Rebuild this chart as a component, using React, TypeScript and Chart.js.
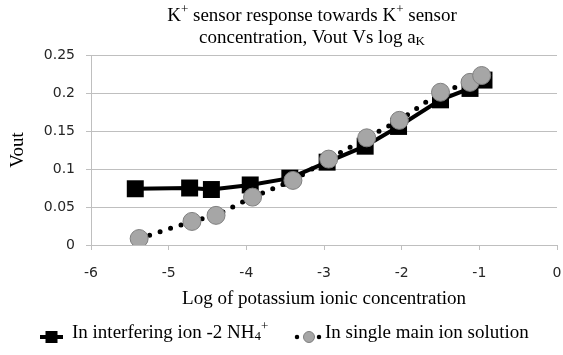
import React, { useEffect, useRef } from "react";
import { Chart, registerables } from "chart.js";

Chart.register(...registerables);

// ---- Data ----
const interferingX = [-5.43, -4.73, -4.45, -3.95, -3.44, -2.96, -2.47, -2.04, -1.5, -1.12, -0.94];
const interferingY = [0.074, 0.075, 0.073, 0.079, 0.088, 0.109, 0.13, 0.156, 0.191, 0.206, 0.217];
const singleX = [-5.38, -4.7, -4.39, -3.92, -3.4, -2.94, -2.45, -2.03, -1.5, -1.12, -0.97];
const singleY = [0.0085, 0.031, 0.039, 0.063, 0.085, 0.113, 0.141, 0.164, 0.201, 0.214, 0.223];
const xTicks = [-6, -5, -4, -3, -2, -1, 0];
const yTicks = [0, 0.05, 0.1, 0.15, 0.2, 0.25];
const seriesNames = ["In interfering ion -2 NH₄⁺", "In single main ion solution"];
const xAxisTitle = "Log of potassium ionic concentration";
const yAxisTitle = "Vout";

type Seg = { t: string; sup?: boolean; sub?: boolean };
const titleLines: Seg[][] = [
  [{ t: "K" }, { t: "+", sup: true }, { t: " sensor response towards K" }, { t: "+", sup: true }, { t: " sensor" }],
  [{ t: "concentration, Vout Vs log a" }, { t: "K", sub: true }],
];
const legendSegs: Seg[][] = [
  [{ t: "In interfering ion -2 NH" }, { t: "4", sub: true }, { t: "+", sup: true }],
  [{ t: "In single main ion solution" }],
];

const SERIF = '"Liberation Serif", "Times New Roman", serif';
const SANS = '"DejaVu Sans", sans-serif';
const GRID = "#bfbfbf";

function segFont(size: number, small: boolean) {
  return `${small ? Math.round(size * 0.66) : size}px ${SERIF}`;
}
function measureRich(ctx: CanvasRenderingContext2D, segs: Seg[], size: number) {
  let w = 0;
  for (const s of segs) {
    ctx.font = segFont(size, !!(s.sup || s.sub));
    w += ctx.measureText(s.t).width;
  }
  return w;
}
function drawRich(
  ctx: CanvasRenderingContext2D,
  segs: Seg[],
  x: number,
  baseline: number,
  size: number,
  align: "left" | "center"
) {
  const w = measureRich(ctx, segs, size);
  let cx = align === "center" ? x - w / 2 : x;
  ctx.textAlign = "left";
  ctx.textBaseline = "alphabetic";
  ctx.fillStyle = "#000";
  for (const s of segs) {
    ctx.font = segFont(size, !!(s.sup || s.sub));
    const dy = s.sup ? -size * 0.4 : s.sub ? size * 0.12 : 0;
    ctx.fillText(s.t, cx, baseline + dy);
    cx += ctx.measureText(s.t).width;
  }
}

const decorPlugin = {
  id: "decor",
  afterDraw(chart: any) {
    const ctx: CanvasRenderingContext2D = chart.ctx;
    ctx.save();
    // Title
    drawRich(ctx, titleLines[0], 312, 21, 19, "center");
    drawRich(ctx, titleLines[1], 312, 43, 19, "center");

    // Legend item 1: solid line + square
    const ly = 337;
    ctx.strokeStyle = "#000";
    ctx.lineWidth = 4;
    ctx.setLineDash([]);
    ctx.beginPath();
    ctx.moveTo(40, ly);
    ctx.lineTo(63, ly);
    ctx.stroke();
    ctx.fillStyle = "#000";
    ctx.fillRect(45.5, ly - 6, 12, 12);
    drawRich(ctx, legendSegs[0], 72, 338, 19, "left");

    // Legend item 2: dotted line + grey circle
    ctx.strokeStyle = "#000";
    ctx.lineWidth = 4.5;
    ctx.lineCap = "round";
    ctx.setLineDash([0, 11]);
    ctx.beginPath();
    ctx.moveTo(297, ly);
    ctx.lineTo(320, ly);
    ctx.stroke();
    ctx.setLineDash([]);
    ctx.beginPath();
    ctx.arc(309, ly, 5.5, 0, Math.PI * 2);
    ctx.fillStyle = "#a6a6a6";
    ctx.fill();
    ctx.lineWidth = 1;
    ctx.strokeStyle = "#7f7f7f";
    ctx.stroke();
    drawRich(ctx, legendSegs[1], 325, 338, 19, "left");
    ctx.restore();
  },
};

export default function App() {
  const ref = useRef<HTMLCanvasElement | null>(null);

  useEffect(() => {
    if (!ref.current) return;
    const chart = new Chart(ref.current, {
      type: "scatter",
      data: {
        datasets: [
          {
            label: seriesNames[0],
            data: interferingX.map((x, i) => ({ x, y: interferingY[i] })),
            showLine: true,
            borderColor: "#000",
            backgroundColor: "#000",
            borderWidth: 4,
            pointStyle: "rect",
            pointRadius: 12,
            pointBorderWidth: 0,
            pointBackgroundColor: "#000",
            order: 1,
          },
          {
            label: seriesNames[1],
            data: singleX.map((x, i) => ({ x, y: singleY[i] })),
            showLine: true,
            borderColor: "#000",
            borderWidth: 5,
            borderDash: [0, 11],
            borderCapStyle: "round",
            pointStyle: "circle",
            pointRadius: 9,
            pointBackgroundColor: "#a6a6a6",
            pointBorderColor: "#7f7f7f",
            pointBorderWidth: 1,
            order: 0,
          },
        ],
      },
      options: {
        animation: false,
        responsive: false,
        maintainAspectRatio: false,
        layout: { autoPadding: false, padding: { top: 55, right: 6, bottom: 40, left: 0 } },
        plugins: {
          legend: { display: false },
          title: { display: false },
          tooltip: { enabled: false },
        },
        scales: {
          x: {
            type: "linear",
            min: -6,
            max: 0,
            afterBuildTicks: (s: any) => {
              s.ticks = xTicks.map((v) => ({ value: v }));
            },
            afterFit: (s: any) => {
              s.height = 70;
              s.paddingLeft = 0;
              s.paddingRight = 4;
            },
            ticks: {
              font: { family: SANS, size: 14 },
              color: "#262626",
              padding: 15,
              callback: (v: any) => String(v),
            },
            grid: { color: "rgba(0,0,0,0)", tickColor: GRID, tickLength: 5, drawTicks: true },
            border: { display: true, color: GRID, width: 1 },
            title: {
              display: true,
              text: xAxisTitle,
              font: { family: SERIF, size: 19 },
              color: "#000",
              padding: { top: 0, bottom: 5 },
            },
          },
          y: {
            type: "linear",
            min: 0,
            max: 0.25,
            afterBuildTicks: (s: any) => {
              s.ticks = yTicks.map((v) => ({ value: v }));
            },
            afterFit: (s: any) => {
              s.width = 91;
            },
            ticks: {
              font: { family: SANS, size: 14 },
              color: "#262626",
              padding: 11,
              callback: (v: any) => String(Math.round(Number(v) * 100) / 100),
            },
            grid: { color: GRID, tickColor: GRID, tickLength: 5, lineWidth: 1 },
            border: { display: true, color: GRID, width: 1 },
            title: {
              display: true,
              text: yAxisTitle,
              font: { family: SERIF, size: 19 },
              color: "#000",
              padding: { top: 7, bottom: 0 },
            },
          },
        },
      },
      plugins: [decorPlugin],
    } as any);
    return () => chart.destroy();
  }, []);

  return (
    <div style={{ position: "fixed", left: 0, top: 0, width: 563, height: 355, background: "#fff" }}>
      <canvas ref={ref} width={563} height={355} style={{ display: "block" }} />
    </div>
  );
}
